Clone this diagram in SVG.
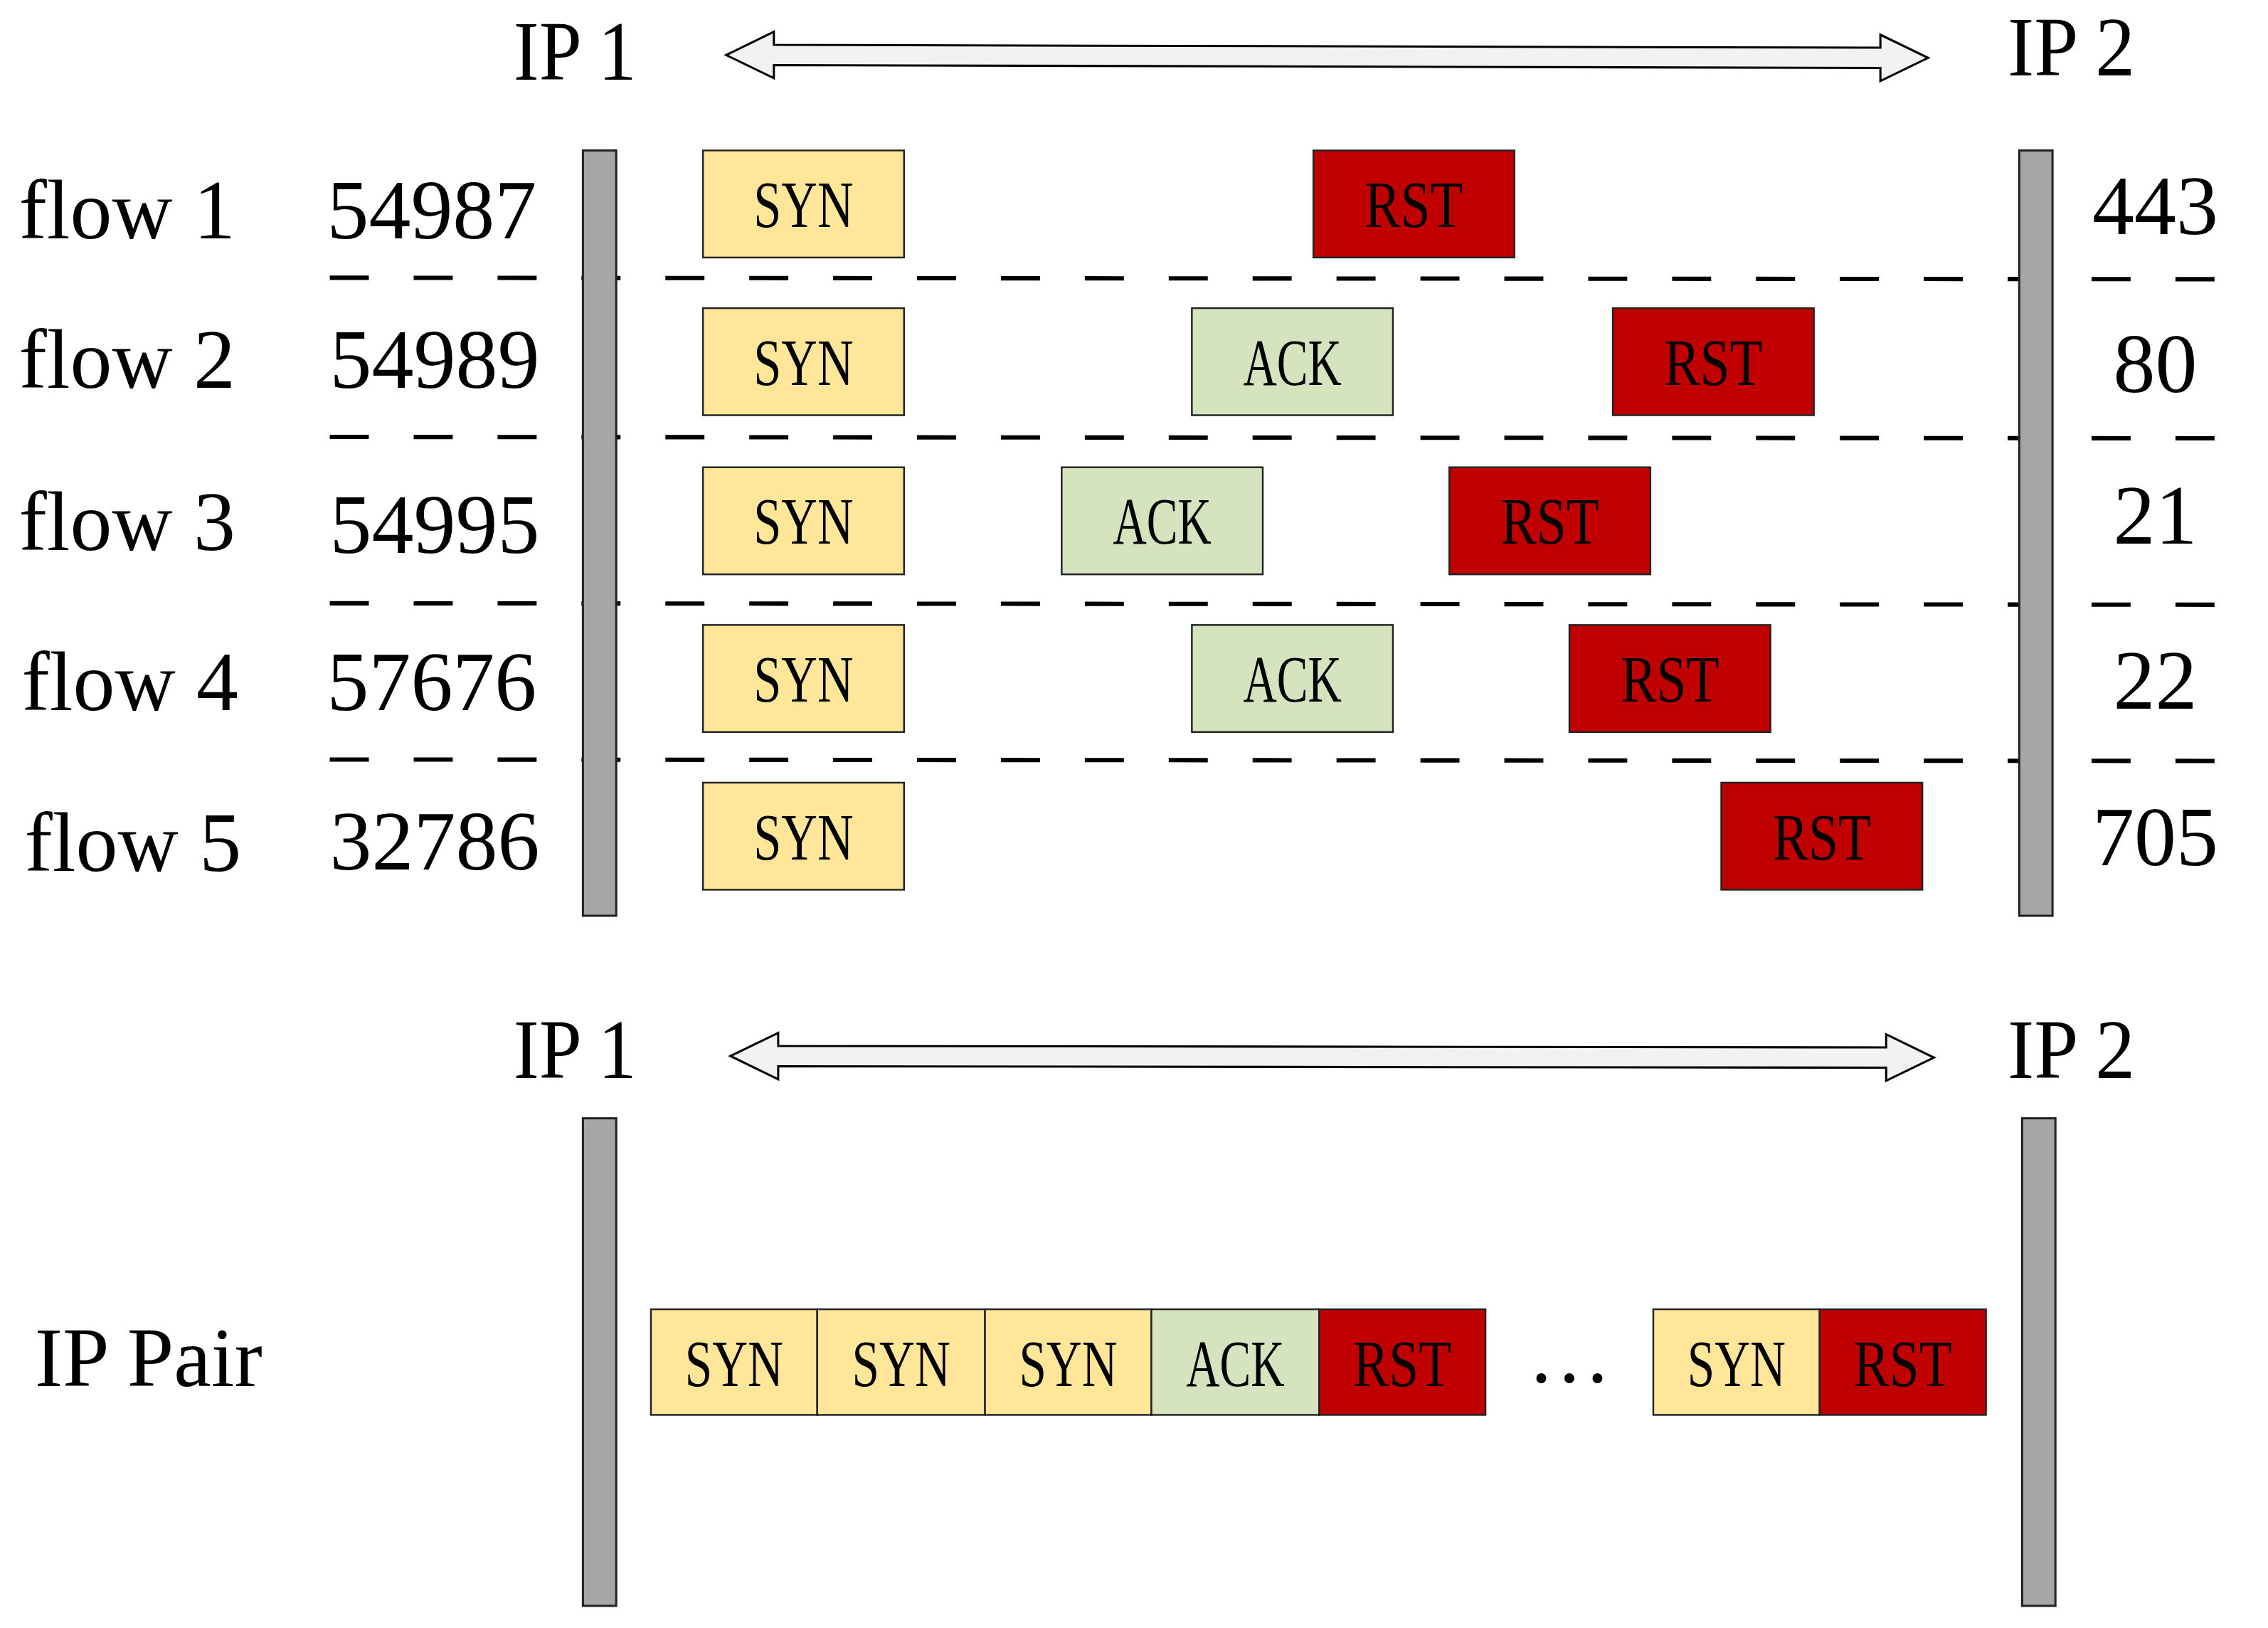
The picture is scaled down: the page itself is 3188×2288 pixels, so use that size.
<svg xmlns="http://www.w3.org/2000/svg" width="3188" height="2288" viewBox="0 0 3188 2288">
<style>
.t{font-family:"Liberation Serif","DejaVu Serif",serif;fill:#000}
.big{font-size:58px}
.bx{font-size:46px;text-anchor:middle}
.bar{fill:#a6a6a6;stroke:#222;stroke-width:1.5}
.syn{fill:#ffe699;stroke:#222;stroke-width:1.2}
.ack{fill:#d5e3bf;stroke:#222;stroke-width:1.2}
.rst{fill:#c00000;stroke:#222;stroke-width:1.2}
.dash{stroke:#000;stroke-width:3;stroke-dasharray:27 31;fill:none}
.arr{fill:#f2f2f2;stroke:#000;stroke-width:1.5}
</style>
<rect width="3188" height="2288" fill="#fff"/>
<g transform="scale(2.0332)">
<g id="labels">
<text class="t big" x="355" y="55" textLength="85" lengthAdjust="spacingAndGlyphs">IP 1</text>
<text class="t big" x="1388" y="52" textLength="88" lengthAdjust="spacingAndGlyphs">IP 2</text>
<text class="t big" x="355" y="745" textLength="85" lengthAdjust="spacingAndGlyphs">IP 1</text>
<text class="t big" x="1388" y="745" textLength="88" lengthAdjust="spacingAndGlyphs">IP 2</text>
<text class="t big" x="13" y="165">flow 1</text>
<text class="t big" x="13" y="268">flow 2</text>
<text class="t big" x="13" y="380">flow 3</text>
<text class="t big" x="15" y="491">flow 4</text>
<text class="t big" x="17" y="602">flow 5</text>
<text class="t big" x="226" y="165">54987</text>
<text class="t big" x="228" y="268">54989</text>
<text class="t big" x="228" y="382">54995</text>
<text class="t big" x="226" y="491">57676</text>
<text class="t big" x="228" y="601">32786</text>
<text class="t big" x="1490" y="162" text-anchor="middle">443</text>
<text class="t big" x="1490" y="271" text-anchor="middle">80</text>
<text class="t big" x="1490" y="376" text-anchor="middle">21</text>
<text class="t big" x="1490" y="490" text-anchor="middle">22</text>
<text class="t big" x="1490" y="598" text-anchor="middle">705</text>
<text class="t big" x="24" y="958">IP Pair</text>
</g>
<g id="connectors">
<path class="arr" d="M502,38 L535,22 L535,31 L1300,33 L1300,24 L1333,40 L1300,56 L1300,47 L535,45 L535,54 Z"/>
<path class="arr" d="M505,730 L538,714 L538,723 L1304,724 L1304,715 L1337,731 L1304,747 L1304,738 L538,737 L538,746 Z"/>
<line class="dash" x1="228" y1="192" x2="1555" y2="193"/>
<line class="dash" x1="228" y1="302" x2="1555" y2="303"/>
<line class="dash" x1="228" y1="417" x2="1555" y2="418"/>
<line class="dash" x1="228" y1="525" x2="1555" y2="526"/>
</g>
<g id="bars">
<rect class="bar" x="403" y="104" width="23" height="529"/>
<rect class="bar" x="1396" y="104" width="23" height="529"/>
<rect class="bar" x="403" y="773" width="23" height="337"/>
<rect class="bar" x="1398" y="773" width="23" height="337"/>
</g>
<g id="flow1">
<rect class="syn" x="486" y="104" width="139" height="74"/><text class="t bx" x="555.5" y="157" textLength="69" lengthAdjust="spacingAndGlyphs">SYN</text>
<rect class="rst" x="908" y="104" width="139" height="74"/><text class="t bx" x="977.5" y="157" textLength="68" lengthAdjust="spacingAndGlyphs">RST</text>
</g>
<g id="flow2">
<rect class="syn" x="486" y="213" width="139" height="74"/><text class="t bx" x="555.5" y="266" textLength="69" lengthAdjust="spacingAndGlyphs">SYN</text>
<rect class="ack" x="824" y="213" width="139" height="74"/><text class="t bx" x="893.5" y="266" textLength="68" lengthAdjust="spacingAndGlyphs">ACK</text>
<rect class="rst" x="1115" y="213" width="139" height="74"/><text class="t bx" x="1184.5" y="266" textLength="68" lengthAdjust="spacingAndGlyphs">RST</text>
</g>
<g id="flow3">
<rect class="syn" x="486" y="323" width="139" height="74"/><text class="t bx" x="555.5" y="376" textLength="69" lengthAdjust="spacingAndGlyphs">SYN</text>
<rect class="ack" x="734" y="323" width="139" height="74"/><text class="t bx" x="803.5" y="376" textLength="68" lengthAdjust="spacingAndGlyphs">ACK</text>
<rect class="rst" x="1002" y="323" width="139" height="74"/><text class="t bx" x="1071.5" y="376" textLength="68" lengthAdjust="spacingAndGlyphs">RST</text>
</g>
<g id="flow4">
<rect class="syn" x="486" y="432" width="139" height="74"/><text class="t bx" x="555.5" y="485" textLength="69" lengthAdjust="spacingAndGlyphs">SYN</text>
<rect class="ack" x="824" y="432" width="139" height="74"/><text class="t bx" x="893.5" y="485" textLength="68" lengthAdjust="spacingAndGlyphs">ACK</text>
<rect class="rst" x="1085" y="432" width="139" height="74"/><text class="t bx" x="1154.5" y="485" textLength="68" lengthAdjust="spacingAndGlyphs">RST</text>
</g>
<g id="flow5">
<rect class="syn" x="486" y="541" width="139" height="74"/><text class="t bx" x="555.5" y="594" textLength="69" lengthAdjust="spacingAndGlyphs">SYN</text>
<rect class="rst" x="1190" y="541" width="139" height="74"/><text class="t bx" x="1259.5" y="594" textLength="68" lengthAdjust="spacingAndGlyphs">RST</text>
</g>
<g id="ippair">
<rect class="syn" x="450" y="905" width="115" height="73"/><text class="t bx" x="507.5" y="958" textLength="68" lengthAdjust="spacingAndGlyphs">SYN</text>
<rect class="syn" x="565" y="905" width="116" height="73"/><text class="t bx" x="623" y="958" textLength="68" lengthAdjust="spacingAndGlyphs">SYN</text>
<rect class="syn" x="681" y="905" width="115" height="73"/><text class="t bx" x="738.5" y="958" textLength="68" lengthAdjust="spacingAndGlyphs">SYN</text>
<rect class="ack" x="796" y="905" width="116" height="73"/><text class="t bx" x="854" y="958" textLength="68" lengthAdjust="spacingAndGlyphs">ACK</text>
<rect class="rst" x="912" y="905" width="115" height="73"/><text class="t bx" x="969.5" y="958" textLength="68" lengthAdjust="spacingAndGlyphs">RST</text>
<text class="t big" x="1085" y="955" text-anchor="middle">…</text>
<rect class="syn" x="1143" y="905" width="115" height="73"/><text class="t bx" x="1200.5" y="958" textLength="68" lengthAdjust="spacingAndGlyphs">SYN</text>
<rect class="rst" x="1258" y="905" width="115" height="73"/><text class="t bx" x="1315.5" y="958" textLength="68" lengthAdjust="spacingAndGlyphs">RST</text>
</g>
</g>
</svg>
